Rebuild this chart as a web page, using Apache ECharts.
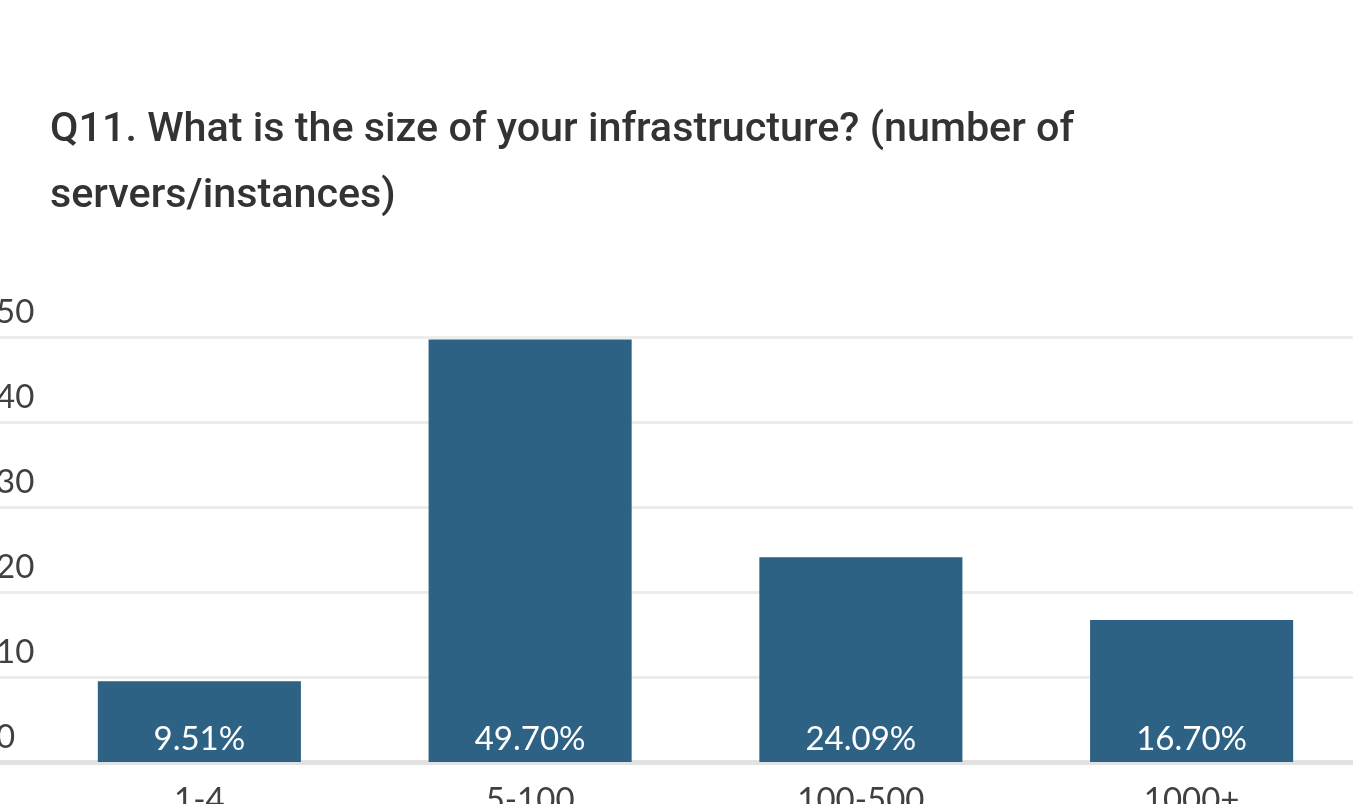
<!DOCTYPE html>
<html>
<head>
<meta charset="utf-8">
<style>
  html, body { margin: 0; padding: 0; background: #ffffff; overflow: hidden; }
  #chart { width: 1353px; height: 804px; }
</style>
<script src="https://cdn.jsdelivr.net/npm/echarts@6/dist/echarts.min.js"></script>
</head>
<body>
<div id="chart"></div>
<script>
// Survey answers: infrastructure size (servers/instances), share of respondents in %
const categories = ['1-4', '5-100', '100-500', '1000+'];
const shares = [9.51, 49.70, 24.09, 16.70];
const yTicks = { min: 0, max: 50, interval: 10 };
const titleLines = ['Q11. What is the size of your infrastructure? (number of', 'servers/instances)'];

const barColor = '#2d6285';
const labelFont = 'Lato, "Noto Sans", sans-serif';

const chart = echarts.init(document.getElementById('chart'), null, { renderer: 'canvas' });

const gridTop = 337;
const gridBottom = 42;

chart.setOption({
  backgroundColor: '#ffffff',
  animation: false,
  title: {
    text: titleLines.join('\n'),
    left: 50,
    top: 98,
    padding: 0,
    textStyle: {
      fontFamily: 'Roboto, sans-serif',
      fontWeight: 500,
      fontSize: 41.3,
      lineHeight: 66,
      color: '#333333'
    }
  },
  grid: [
    // full-width grid carrying the value scale, gridlines and baseline
    { left: -4, right: -4, top: gridTop, bottom: gridBottom, outerBoundsMode: 'none', containLabel: false },
    // inset grid carrying the bars and category labels
    { left: 34, right: -4, top: gridTop, bottom: gridBottom, outerBoundsMode: 'none', containLabel: false }
  ],
  xAxis: [
    {
      gridIndex: 0,
      type: 'category',
      data: categories,
      axisLine: { show: true, lineStyle: { color: '#e2e2e2', width: 5 } },
      axisTick: { show: false },
      axisLabel: { show: false },
      splitLine: { show: false }
    },
    {
      gridIndex: 1,
      type: 'category',
      data: categories,
      axisLine: { show: false },
      axisTick: { show: false },
      axisLabel: {
        margin: 22,
        fontFamily: labelFont,
        fontSize: 33,
        color: '#404040'
      }
    }
  ],
  yAxis: [
    {
      gridIndex: 0,
      type: 'value',
      min: yTicks.min,
      max: yTicks.max,
      interval: yTicks.interval,
      axisLine: { show: false },
      axisTick: { show: false },
      axisLabel: {
        inside: true,
        margin: 0,
        align: 'left',
        verticalAlign: 'bottom',
        padding: [0, 0, 8, 0],
        fontFamily: labelFont,
        fontSize: 33,
        color: '#404040'
      },
      splitLine: { show: true, lineStyle: { color: '#ececec', width: 3 } }
    },
    {
      gridIndex: 1,
      type: 'value',
      min: yTicks.min,
      max: yTicks.max,
      interval: yTicks.interval,
      show: false,
      splitLine: { show: false }
    }
  ],
  series: [
    {
      type: 'bar',
      xAxisIndex: 1,
      yAxisIndex: 1,
      data: shares,
      barWidth: '61.4%',
      itemStyle: { color: barColor },
      label: {
        show: true,
        position: 'insideBottom',
        distance: 6,
        formatter: p => p.value.toFixed(2) + '%',
        fontFamily: labelFont,
        fontSize: 33,
        color: '#ffffff'
      }
    }
  ]
});
</script>
</body>
</html>
